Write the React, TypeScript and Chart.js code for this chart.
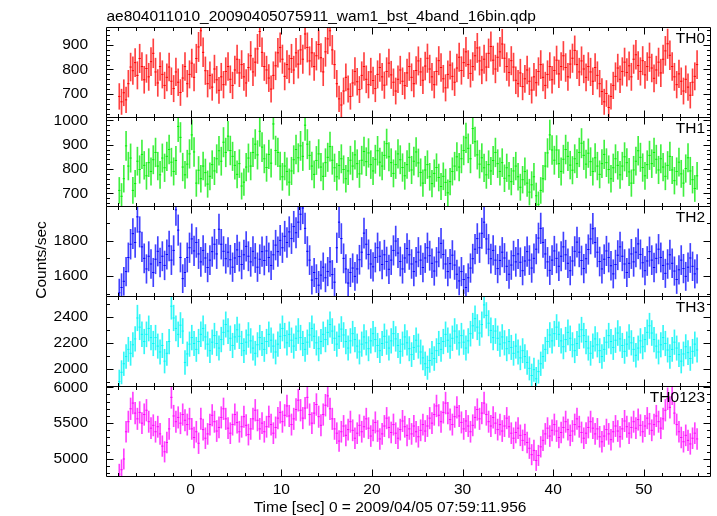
import React, { useEffect, useRef } from 'react';
import { Chart, registerables } from 'chart.js';

Chart.register(...registerables);

// ---------------- data (counts/sec, 0.25 s bins starting at t = -8 s) ----------------
const BIN = 0.25;
const T_START = -8;

const TH0 = [
  690, 668, 705, 676, 742, 810, 795, 828, 776, 845, 812, 758, 804, 770, 832, 866, 790, 745, 812, 780, 735, 768, 810, 752, 722, 790, 748, 706, 765, 812, 742, 780,
  826, 768, 845, 892, 958, 870, 795, 742, 776, 728, 802, 758, 715, 770, 738, 792, 812, 760, 735, 798, 842, 786, 820, 770, 745, 808, 856, 790, 830, 884, 955, 870,
  812, 798, 765, 720, 776, 815, 868, 890, 842, 772, 820, 802, 845, 798, 868, 822, 880, 842, 945, 890, 835, 868, 812, 856, 902, 848, 790, 872, 925, 958, 880, 820,
  742, 680, 655, 712, 768, 720, 690, 745, 792, 750, 718, 776, 812, 760, 738, 790, 755, 722, 780, 808, 770, 736, 792, 826, 778, 748, 712, 760, 798, 752, 734, 786,
  812, 768, 742, 796, 835, 790, 756, 814, 846, 802, 770, 738, 792, 836, 808, 762, 725, 780, 818, 772, 748, 806, 850, 796, 828, 872, 820, 784, 812, 856, 888, 835,
  798, 842, 810, 866, 894, 838, 802, 850, 872, 904, 846, 812, 788, 836, 810, 756, 742, 786, 730, 762, 798, 752, 716, 770, 746, 792, 820, 768, 735, 780, 812, 758,
  796, 838, 782, 812, 856, 808, 770, 822, 846, 878, 820, 790, 835, 802, 768, 812, 790, 752, 808, 776, 742, 710, 668, 702, 645, 690, 735, 772, 806, 760, 792, 830,
  788, 815, 770, 842, 860, 816, 792, 836, 778, 812, 850, 806, 764, 798, 830, 786, 842, 876, 905, 858, 812, 770, 738, 782, 752, 712, 760, 728, 695, 748, 772, 820,
];

const TH1 = [
  712, 688, 760, 895, 812, 845, 712, 740, 832, 798, 860, 815, 772, 826, 790, 838, 868, 812, 776, 845, 805, 852, 880, 828, 790, 835, 975, 930, 808, 776, 820, 862,
  940, 870, 742, 795, 760, 812, 785, 738, 770, 818, 792, 842, 875, 832, 910, 868, 935, 876, 852, 815, 778, 822, 730, 746, 808, 845, 812, 868, 902, 858, 955, 890,
  842, 806, 860, 824, 985, 876, 868, 812, 768, 812, 790, 746, 792, 838, 880, 846, 895, 852, 980, 902, 856, 812, 778, 835, 862, 808, 770, 826, 848, 892, 836, 805,
  768, 815, 842, 798, 760, 792, 836, 812, 858, 822, 780, 836, 872, 830, 866, 818, 792, 840, 875, 828, 812, 856, 904, 850, 826, 782, 818, 862, 838, 806, 772, 818,
  848, 796, 832, 870, 825, 786, 742, 796, 818, 768, 740, 782, 806, 765, 728, 770, 745, 702, 748, 790, 812, 850, 808, 842, 876, 928, 885, 842, 966, 912, 858, 820,
  846, 805, 776, 818, 792, 835, 868, 822, 790, 826, 762, 805, 772, 748, 792, 812, 768, 725, 756, 790, 742, 705, 735, 768, 690, 655, 712, 760, 812, 866, 940, 878,
  836, 878, 822, 790, 840, 880, 852, 816, 795, 842, 822, 868, 906, 856, 820, 865, 830, 790, 846, 812, 778, 822, 860, 826, 798, 760, 805, 842, 815, 776, 812, 850,
  826, 788, 742, 796, 832, 875, 848, 806, 772, 818, 856, 822, 868, 840, 796, 842, 808, 770, 815, 852, 796, 752, 790, 828, 780, 742, 802, 846, 792, 756, 720, 772,
];

const TH2 = [
  1505, 1535, 1570, 1625, 1705, 1780, 1840, 1790, 1935, 1850, 1765, 1700, 1640, 1712, 1668, 1620, 1695, 1740, 1676, 1712, 1660, 1722, 1770, 1690, 1745, 1975, 1860, 1705, 1585, 1620, 1705, 1760,
  1810, 1742, 1790, 1725, 1680, 1745, 1702, 1648, 1690, 1738, 1780, 1725, 1865, 1780, 1740, 1698, 1735, 1692, 1650, 1702, 1748, 1710, 1665, 1720, 1768, 1712, 1680, 1740, 1702, 1650, 1695, 1738,
  1688, 1742, 1705, 1660, 1720, 1775, 1738, 1802, 1760, 1825, 1790, 1850, 1812, 1880, 1845, 1905, 1950, 1985, 1870, 1740, 1690, 1577, 1620, 1585, 1548, 1605, 1650, 1590, 1625, 1680, 1608, 1565,
  1760, 1905, 1812, 1700, 1640, 1560, 1620, 1645, 1598, 1640, 1692, 1735, 1843, 1780, 1722, 1668, 1652, 1705, 1760, 1712, 1665, 1720, 1682, 1638, 1690, 1745, 1798, 1730, 1682, 1640, 1702, 1756,
  1720, 1668, 1625, 1680, 1735, 1690, 1648, 1702, 1760, 1715, 1672, 1628, 1680, 1735, 1785, 1722, 1668, 1625, 1670, 1718, 1662, 1610, 1572, 1625, 1580, 1535, 1590, 1645, 1698, 1752, 1812, 1760,
  1842, 1905, 1810, 1752, 1698, 1745, 1690, 1642, 1688, 1735, 1702, 1655, 1610, 1662, 1715, 1680, 1725, 1678, 1630, 1685, 1738, 1690, 1645, 1700, 1752, 1815, 1870, 1790, 1725, 1680, 1632, 1690,
  1742, 1700, 1655, 1712, 1765, 1720, 1672, 1630, 1685, 1740, 1792, 1735, 1688, 1642, 1698, 1750, 1810, 1868, 1790, 1735, 1682, 1640, 1695, 1742, 1705, 1658, 1612, 1665, 1718, 1765, 1712, 1668,
  1620, 1672, 1725, 1680, 1735, 1782, 1722, 1675, 1630, 1685, 1738, 1690, 1648, 1700, 1752, 1705, 1660, 1615, 1668, 1720, 1672, 1628, 1580, 1635, 1690, 1642, 1598, 1650, 1702, 1655, 1612, 1640,
];

const TH3 = [
  1905, 1975, 2040, 2095, 2150, 2120, 2185, 2230, 2390, 2320, 2265, 2210, 2265, 2310, 2240, 2195, 2240, 2175, 2130, 2180, 2060, 2120, 2210, 2480, 2390, 2310, 2265, 2335, 2290, 2050, 2115, 2190,
  2240, 2195, 2150, 2210, 2265, 2310, 2245, 2190, 2140, 2205, 2255, 2195, 2160, 2225, 2280, 2340, 2290, 2235, 2180, 2245, 2300, 2250, 2195, 2140, 2205, 2260, 2215, 2160, 2120, 2185, 2240, 2195,
  2150, 2210, 2265, 2220, 2175, 2130, 2190, 2250, 2310, 2255, 2200, 2265, 2220, 2175, 2235, 2290, 2240, 2195, 2150, 2205, 2260, 2310, 2250, 2200, 2155, 2210, 2265, 2225, 2280, 2340, 2290, 2235,
  2190, 2250, 2305, 2260, 2210, 2160, 2215, 2270, 2225, 2175, 2130, 2190, 2245, 2200, 2155, 2215, 2270, 2225, 2180, 2140, 2195, 2250, 2205, 2160, 2215, 2270, 2230, 2180, 2135, 2190, 2245, 2200,
  2155, 2110, 2165, 2220, 2175, 2130, 2085, 2040, 2010, 2065, 2120, 2080, 2140, 2195, 2150, 2210, 2265, 2220, 2175, 2235, 2290, 2245, 2200, 2255, 2205, 2160, 2215, 2270, 2330, 2385, 2320, 2275,
  2340, 2490, 2410, 2350, 2295, 2240, 2290, 2235, 2190, 2245, 2200, 2155, 2210, 2165, 2120, 2175, 2130, 2085, 2140, 2095, 2050, 2005, 1950, 1995, 1925, 1980, 2040, 2095, 2150, 2210, 2260, 2215,
  2270, 2320, 2265, 2215, 2170, 2225, 2280, 2235, 2185, 2140, 2195, 2250, 2300, 2255, 2210, 2160, 2120, 2175, 2230, 2185, 2140, 2095, 2150, 2205, 2255, 2210, 2165, 2220, 2275, 2230, 2180, 2135,
  2190, 2245, 2200, 2150, 2105, 2160, 2215, 2170, 2225, 2280, 2330, 2275, 2225, 2175, 2130, 2185, 2240, 2195, 2145, 2095, 2150, 2205, 2160, 2110, 2060, 2115, 2170, 2125, 2080, 2135, 2190, 2145,
];

const TH0123 = [
  4790, 4850, 5000, 5380, 5520, 5700, 5780, 5640, 5560, 5650, 5500, 5620, 5680, 5520, 5430, 5470, 5380, 5450, 5350, 5180, 5100, 5230, 5420, 5860, 5600, 5520, 5580, 5500, 5620, 5540, 5480, 5560,
  5420, 5300, 5380, 5220, 5560, 5410, 5290, 5350, 5480, 5610, 5520, 5390, 5440, 5580, 5700, 5560, 5430, 5360, 5480, 5620, 5510, 5380, 5450, 5590, 5470, 5340, 5420, 5560, 5680, 5540, 5420, 5500,
  5380, 5450, 5590, 5480, 5360, 5440, 5570, 5650, 5520, 5610, 5740, 5600, 5480, 5560, 5690, 5820, 5680, 5570, 5710, 5860, 5620, 5500, 5640, 5760, 5590, 5470, 5620, 5750, 5880, 5700, 5560, 5420,
  5360, 5250, 5380, 5460, 5330, 5410, 5520, 5400, 5290, 5360, 5470, 5380, 5450, 5560, 5430, 5320, 5400, 5510, 5390, 5280, 5350, 5460, 5570, 5440, 5370, 5480, 5360, 5290, 5410, 5530, 5450, 5330,
  5420, 5350, 5460, 5380, 5310, 5400, 5480, 5390, 5460, 5570, 5500, 5620, 5740, 5610, 5520, 5650, 5780, 5640, 5550, 5480, 5590, 5720, 5600, 5510, 5420, 5530, 5460, 5380, 5470, 5580, 5690, 5560,
  5640, 5780, 5620, 5520, 5460, 5580, 5500, 5410, 5480, 5390, 5460, 5570, 5450, 5360, 5290, 5370, 5430, 5330, 5260, 5340, 5230, 5150, 5060, 5120, 4980, 5050, 5170, 5260, 5350, 5430, 5320, 5400,
  5480, 5390, 5300, 5370, 5440, 5520, 5410, 5330, 5390, 5480, 5560, 5450, 5370, 5290, 5360, 5440, 5520, 5430, 5350, 5420, 5310, 5240, 5320, 5410, 5350, 5270, 5380, 5460, 5390, 5310, 5420, 5530,
  5450, 5360, 5440, 5520, 5430, 5550, 5470, 5380, 5460, 5570, 5490, 5400, 5480, 5600, 5520, 5430, 5560, 5680, 5840, 5720, 5910, 5640, 5480, 5380, 5300, 5240, 5330, 5260, 5210, 5290, 5360, 5280,
];

// axis ranges and tick values
const X_MIN = -9.34;
const X_MAX = 57.3;
const X_LABEL_TICKS = [0, 10, 20, 30, 40, 50];
const X_MINOR_FIRST = -8;
const X_MINOR_LAST = 56;
const X_MINOR_STEP = 2;
const X_MAJOR_STEP = 10;

const TH0_TICKS = [700, 800, 900];
const TH1_TICKS = [700, 800, 900, 1000];
const TH2_TICKS = [1600, 1800];
const TH3_TICKS = [2000, 2200, 2400];
const TH0123_TICKS = [5000, 5500, 6000];

const TITLE = 'ae804011010_20090405075911_wam1_bst_4band_16bin.qdp';
const X_TITLE = 'Time [sec] 0 = 2009/04/05 07:59:11.956';
const Y_TITLE = 'Counts/sec';

const PANELS = [
  { label: 'TH0', values: TH0, color: '#ff0000', barColor: 'rgba(255,0,0,0.75)', min: 606, max: 973.5, ticks: TH0_TICKS, minor: 20, major: 100 },
  { label: 'TH1', values: TH1, color: '#00ff00', barColor: 'rgba(0,235,0,0.75)', min: 648, max: 1013.6, ticks: TH1_TICKS, minor: 20, major: 100 },
  { label: 'TH2', values: TH2, color: '#0000ff', barColor: 'rgba(0,0,255,0.75)', min: 1486.7, max: 1996.6, ticks: TH2_TICKS, minor: 100, major: 200 },
  { label: 'TH3', values: TH3, color: '#00ffff', barColor: 'rgba(0,245,245,0.8)', min: 1870, max: 2558, ticks: TH3_TICKS, minor: 100, major: 200 },
  { label: 'TH0123', values: TH0123, color: '#ff00ff', barColor: 'rgba(255,0,255,0.75)', min: 4763, max: 6018, ticks: TH0123_TICKS, minor: 100, major: 500 },
];

// ---------------- layout ----------------
const W = 717;
const H = 516;
const PLOT_LEFT = 106;
const PLOT_RIGHT = 710;
const PANEL_EDGES = [27, 117, 206, 296, 386, 476];
const FONT = '"Liberation Sans", Arial, Helvetica, sans-serif';
const FONT_SIZE = 15.5;
const MAJOR_LEN = 7;
const MINOR_LEN = 3.5;
const BOTTOM_PAD = 20;

Chart.defaults.font.family = FONT;

const panelDeco = {
  id: 'panelDeco',
  afterDraw(chart: any, _args: any, opts: any) {
    const { ctx, chartArea: a, scales } = chart;
    const xs = scales.x;
    const ys = scales.y;
    const L = Math.round(a.left) + 0.5;
    const R = Math.round(a.right) + 0.5;
    const T = Math.round(a.top) + 0.5;
    const B = Math.round(a.bottom) + 0.5;
    ctx.save();
    ctx.strokeStyle = '#000';
    ctx.lineWidth = 1;
    ctx.beginPath();
    ctx.rect(L, T, R - L, B - T);
    for (let t = X_MINOR_FIRST; t <= X_MINOR_LAST; t += X_MINOR_STEP) {
      const px = Math.round(xs.getPixelForValue(t)) + 0.5;
      const len = t % X_MAJOR_STEP === 0 ? MAJOR_LEN : MINOR_LEN;
      ctx.moveTo(px, T);
      ctx.lineTo(px, T + len);
      ctx.moveTo(px, B);
      ctx.lineTo(px, B - len);
    }
    const kStart = Math.ceil(ys.min / opts.minor);
    const kEnd = Math.floor(ys.max / opts.minor);
    for (let k = kStart; k <= kEnd; k++) {
      const v = k * opts.minor;
      const py = Math.round(ys.getPixelForValue(v)) + 0.5;
      const len = v % opts.major === 0 ? MAJOR_LEN : MINOR_LEN;
      ctx.moveTo(L, py);
      ctx.lineTo(L + len, py);
      ctx.moveTo(R, py);
      ctx.lineTo(R - len, py);
    }
    ctx.stroke();
    ctx.fillStyle = '#000';
    ctx.font = `${FONT_SIZE}px ${FONT}`;
    ctx.textAlign = 'right';
    ctx.textBaseline = 'alphabetic';
    ctx.fillText(opts.label, a.right - 5, a.top + 15.8);
    ctx.restore();
  },
};

export default function App() {
  const refs = useRef<Array<HTMLCanvasElement | null>>([]);

  useEffect(() => {
    const charts = PANELS.map((p, i) => {
      const canvas = refs.current[i] as HTMLCanvasElement;
      const isBottom = i === PANELS.length - 1;
      const top = PANEL_EDGES[i];
      const bottom = PANEL_EDGES[i + 1];
      const bars = p.values.map((v, k) => {
        const t = T_START + BIN * (k + 0.5);
        const e = Math.sqrt(v / BIN);
        return { x: t, y: [v - e, v + e] };
      });
      const steps = p.values.flatMap((v, k) => {
        const t = T_START + BIN * (k + 0.5);
        return [
          { x: t - BIN / 2, y: v },
          { x: t + BIN / 2, y: v },
          { x: t + BIN / 2, y: null },
        ];
      });
      return new Chart(canvas, {
        type: 'bar',
        data: {
          datasets: [
            {
              type: 'bar',
              data: bars as any,
              backgroundColor: p.barColor,
              borderWidth: 0,
              barThickness: 1,
              grouped: false,
            } as any,
            {
              type: 'line',
              data: steps as any,
              borderColor: p.color,
              borderWidth: 1,
              pointRadius: 0,
              spanGaps: false,
              tension: 0,
              fill: false,
            } as any,
          ],
        },
        options: {
          responsive: false,
          animation: false,
          events: [],
          layout: {
            padding: {
              left: 0,
              right: W - PLOT_RIGHT,
              top,
              bottom: isBottom ? BOTTOM_PAD : H - bottom,
            },
          },
          plugins: {
            legend: { display: false },
            tooltip: { enabled: false },
            panelDeco: { label: p.label, minor: p.minor, major: p.major },
          } as any,
          scales: {
            x: {
              type: 'linear',
              min: X_MIN,
              max: X_MAX,
              offset: false,
              display: isBottom,
              grid: { display: false },
              border: { display: false },
              ticks: {
                autoSkip: false,
                maxRotation: 0,
                padding: -3.5,
                color: '#000',
                font: { size: FONT_SIZE, family: FONT },
                callback: (v: any) => String(v),
              },
              afterBuildTicks: (s: any) => {
                s.ticks = X_LABEL_TICKS.map((v) => ({ value: v }));
              },
              afterFit: (s: any) => {
                if (isBottom) s.height = H - BOTTOM_PAD - bottom;
                else s.height = 0;
              },
            },
            y: {
              type: 'linear',
              min: p.min,
              max: p.max,
              grid: { display: false },
              border: { display: false },
              ticks: {
                padding: 10,
                color: '#000',
                font: { size: FONT_SIZE, family: FONT },
                callback: (v: any) => String(v),
              },
              afterBuildTicks: (s: any) => {
                s.ticks = p.ticks.map((v) => ({ value: v }));
              },
              afterFit: (s: any) => {
                s.width = PLOT_LEFT;
              },
            },
          } as any,
        },
        plugins: [panelDeco as any],
      });
    });
    return () => charts.forEach((c) => c.destroy());
  }, []);

  const textStyle: React.CSSProperties = {
    position: 'absolute',
    fontFamily: FONT,
    fontSize: FONT_SIZE,
    lineHeight: '18px',
    whiteSpace: 'nowrap',
    color: '#000',
  };

  return (
    <div
      style={{
        position: 'absolute',
        left: 0,
        top: 0,
        width: W,
        height: H,
        background: '#fff',
        overflow: 'hidden',
      }}
    >
      {PANELS.map((p, i) => (
        <canvas
          key={p.label}
          ref={(el) => {
            refs.current[i] = el;
          }}
          width={W}
          height={H}
          style={{ position: 'absolute', left: 0, top: 0, width: W, height: H }}
        />
      ))}
      <div style={{ ...textStyle, left: 106.4, top: 6.5 }}>{TITLE}</div>
      <div style={{ ...textStyle, left: 253.7, top: 498.3 }}>{X_TITLE}</div>
      <div
        style={{
          ...textStyle,
          left: 40.7 - 60,
          top: 260 - 9,
          width: 120,
          height: 18,
          textAlign: 'center',
          transform: 'rotate(-90deg)',
          transformOrigin: '50% 50%',
        }}
      >
        {Y_TITLE}
      </div>
    </div>
  );
}
